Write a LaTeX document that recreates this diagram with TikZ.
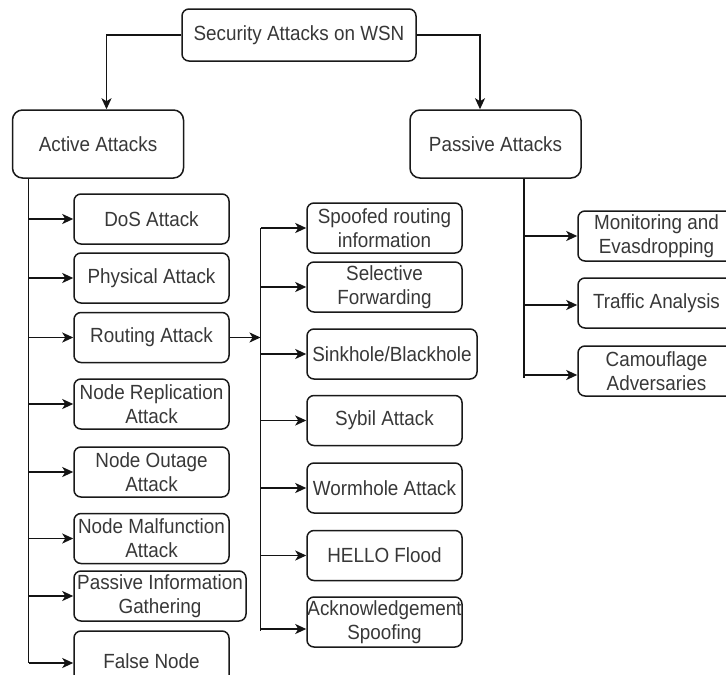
\documentclass[tikz,border=0pt]{standalone}
\usepackage{fontspec}
\setmainfont{Liberation Sans}[FakeStretch=0.92]
\usetikzlibrary{arrows.meta}

\tikzset{
  box/.style={draw=black!90, line width=1.5pt, rounded corners=7pt, fill=white,
    text=black!78, align=center, inner sep=0pt,
    font=\fontsize{20.5}{24}\selectfont},
  bigbox/.style={box, rounded corners=10pt},
  link/.style={draw=black!92, line width=1.8pt},
  arr/.style={link, -{Stealth[length=11pt,width=10pt,inset=3pt]}},
}

\begin{document}
\begin{tikzpicture}[x=1pt,y=-1pt]
  \useasboundingbox (0,0) rectangle (726,675);
  \clip (0,0) rectangle (726,675);

  % top level
  \node[box, minimum width=234pt, minimum height=52pt] (root) at (299,35) {Security Attacks on WSN};
  \node[bigbox, minimum width=171pt, minimum height=68pt] (active) at (98,144) {Active Attacks};
  \node[bigbox, minimum width=171pt, minimum height=68pt] (passive) at (495.5,144) {Passive Attacks};

  % active attacks
  \tikzset{lbox/.style={box, minimum width=155pt, minimum height=50pt}}
  \node[lbox] (dos)  at (151.5,219) {DoS Attack};
  \node[lbox] (phys) at (151.5,278) {Physical Attack};
  \node[lbox] (rout) at (151.5,337.5) {Routing Attack};
  \node[lbox] (repl) at (151.5,404) {Node Replication\\Attack};
  \node[lbox] (outg) at (151.5,472) {Node Outage\\Attack};
  \node[lbox] (malf) at (151.5,538.5) {Node Malfunction\\Attack};
  \node[box, minimum width=172pt, minimum height=50pt] (pinf) at (160,596) {Passive Information\\Gathering};
  \node[lbox, minimum height=60pt] (fals) at (151.5,661) {False Node};

  % routing attacks
  \node[lbox] (spoof) at (384.5,228) {Spoofed routing\\information};
  \node[lbox] (selec) at (384.5,287) {Selective\\Forwarding};
  \node[box, minimum width=170pt, minimum height=50pt] (sink) at (392,354) {Sinkhole/Blackhole};
  \node[lbox] (sybil) at (384.5,420.5) {Sybil Attack};
  \node[lbox] (worm)  at (384.5,488) {Wormhole Attack};
  \node[lbox] (hello) at (384.5,555.5) {HELLO Flood};
  \node[lbox] (ack)   at (384.5,622) {Acknowledgement\\Spoofing};

  % passive attacks
  \tikzset{rbox/.style={box, minimum width=157pt, minimum height=50pt}}
  \node[rbox] (moni) at (656.5,236) {Monitoring and\\Evasdropping};
  \node[rbox] (traf) at (656.5,303) {Traffic Analysis};
  \node[rbox] (camo) at (656.5,371) {Camouflage\\Adversaries};

  % trunk lines
  \coordinate (aend) at (28.5,663);
  \coordinate (rtop) at (260.5,228);
  \coordinate (rend) at (260.5,631);
  \coordinate (pend) at (524,378);

  % root to categories
  \draw[arr] (root.west) -| ([xshift=8.5pt]active.north);
  \draw[arr] (root.east) -| ([xshift=-15.5pt]passive.north);

  % active trunk and branches
  \draw[link] (active.south -| aend) -- (aend);
  \foreach \n in {dos,phys,rout,repl,outg,malf,pinf}
    \draw[arr] (aend |- \n.west) -- (\n.west);
  \draw[arr] (aend) -- (aend -| fals.west);

  % routing trunk and branches
  \draw[link] (rtop) -- (rend);
  \draw[arr] (rout.east) -- (rout.east -| rtop);
  \foreach \n in {spoof,selec,sink,sybil,worm,hello}
    \draw[arr] (rtop |- \n.west) -- (\n.west);
  \draw[arr] (rend |- ack.west) ++(0,7) -- ([yshift=-7pt]ack.west);

  % passive trunk and branches
  \draw[link] (passive.south -| pend) -- (pend);
  \draw[arr] (pend |- moni.west) -- (moni.west);
  \draw[arr] ([yshift=-2pt]pend |- traf.west) -- ([yshift=-2pt]traf.west);
  \draw[arr] ([yshift=-4pt]pend |- camo.west) -- ([yshift=-4pt]camo.west);
\end{tikzpicture}
\end{document}
